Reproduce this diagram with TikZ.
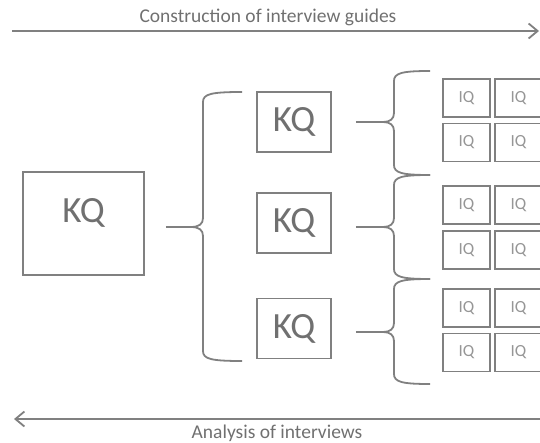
\documentclass[tikz,border=0pt]{standalone}
\usepackage{fontspec}
\setmainfont{Carlito}
\usetikzlibrary{arrows.meta}
\definecolor{linegray}{RGB}{128,128,128}
\definecolor{textgray}{RGB}{112,112,112}
\definecolor{iqgray}{RGB}{150,150,150}
\newcommand{\curlybrace}[6]{%
  \draw[brace] (#6,#2) .. controls (#1+8,#2) and (#1,#2+2) .. (#1,#2+10)
    -- (#1,#3-9) .. controls (#1,#3-3) and (#1-4,#3) .. (#5,#3)
    .. controls (#1-4,#3) and (#1,#3+3) .. (#1,#3+9)
    -- (#1,#4-10) .. controls (#1,#4-2) and (#1+8,#4) .. (#6,#4);}
\begin{document}
\begin{tikzpicture}[x=1pt, y=-1pt,
  box/.style={draw=linegray, line width=1.8pt, text=textgray, inner sep=0pt},
  kqbox/.style={box, minimum width=74pt, minimum height=60pt, font=\fontsize{37}{37}\selectfont},
  iqbox/.style={box, minimum width=47pt, minimum height=38pt, text=iqgray, font=\fontsize{17}{17}\selectfont},
  brace/.style={draw=linegray, line width=1.8pt},
  link/.style={draw=linegray, line width=1.8pt},
  phase/.style={draw=linegray, line width=1.8pt, -{Straight Barb[length=9pt,width=15pt]}},
  caption/.style={text=textgray, font=\fontsize{19.5}{19.5}\selectfont, inner sep=0pt}]
\clip (0,0) rectangle (540,443);
\coordinate (top-l) at (12,31);
\coordinate (top-r) at (539,31);
\coordinate (bot-r) at (541,419);
\coordinate (bot-l) at (14,419);
\node[caption] (build) at (268,17) {Construction of interview guides};
\node[caption] (analyse) at (277,433) {Analysis of interviews};
\draw[phase] (top-l) -- (top-r);
\draw[phase] (bot-r) -- (bot-l);
\node[kqbox, minimum width=121pt, minimum height=103pt] (kq0) at (83.5,223.5) {\raisebox{11pt}[\height][\depth]{KQ}};
\node[kqbox] (kq1) at (294,122) {KQ};
\node[kqbox] (kq2) at (294,223) {KQ};
\node[kqbox] (kq3) at (294,328.5) {KQ};
\coordinate (b0) at (191,227);
\coordinate (b1) at (383,122);
\coordinate (b2) at (383,227);
\coordinate (b3) at (383,332);
\curlybrace{203}{92}{227}{361}{191}{242}
\curlybrace{394}{71}{122}{175}{383}{430}
\curlybrace{394}{175}{227}{279}{383}{430}
\curlybrace{394}{279}{332}{384}{383}{430}
\draw[link, shorten <=21pt] (kq0.east |- b0) -- (b0);
\draw[link, shorten <=24pt] (kq1.east |- b1) -- (b1);
\draw[link, shorten <=24pt] (kq2.east |- b2) -- (b2);
\draw[link, shorten <=24pt] (kq3.east |- b3) -- (b3);
\node[iqbox] (iq11) at (466.5,98) {IQ};
\node[iqbox] (iq12) at (518.5,98) {IQ};
\node[iqbox] (iq13) at (466.5,142.5) {IQ};
\node[iqbox] (iq14) at (518.5,142.5) {IQ};
\node[iqbox] (iq21) at (466.5,205) {IQ};
\node[iqbox] (iq22) at (518.5,205) {IQ};
\node[iqbox] (iq23) at (466.5,250) {IQ};
\node[iqbox] (iq24) at (518.5,250) {IQ};
\node[iqbox] (iq31) at (466.5,308) {IQ};
\node[iqbox] (iq32) at (518.5,308) {IQ};
\node[iqbox] (iq33) at (466.5,352.5) {IQ};
\node[iqbox] (iq34) at (518.5,352.5) {IQ};
\end{tikzpicture}
\end{document}
